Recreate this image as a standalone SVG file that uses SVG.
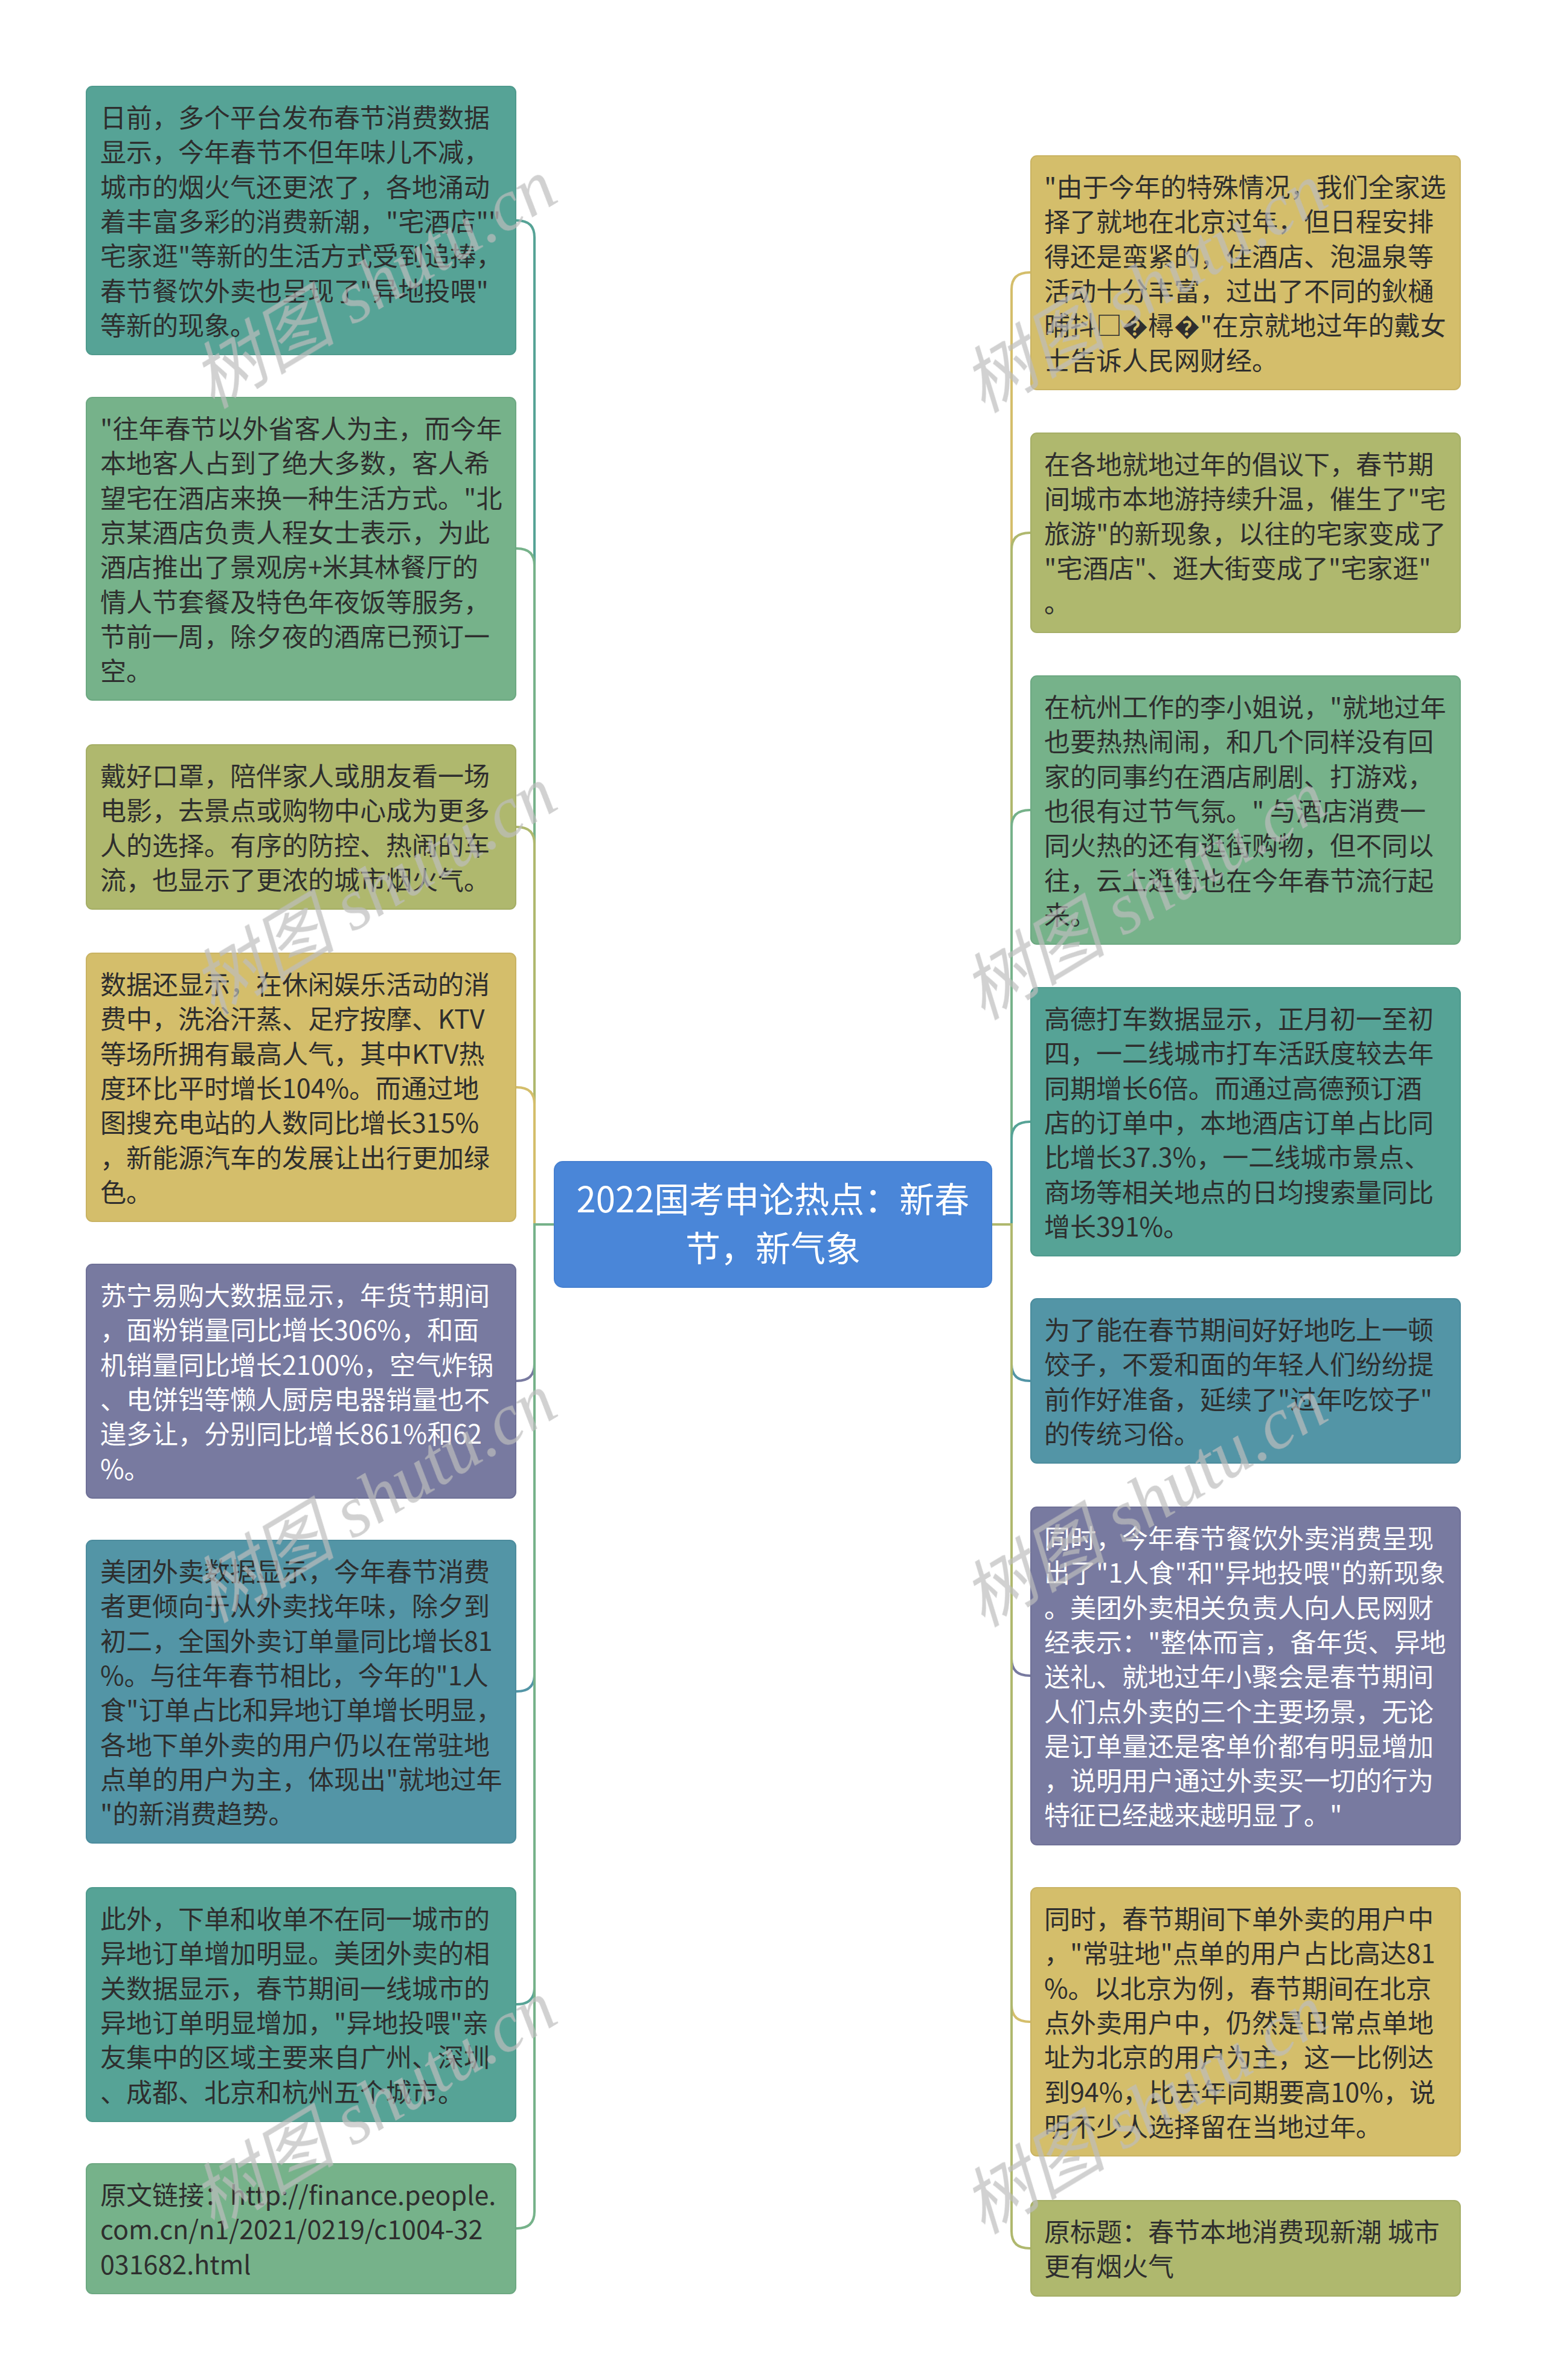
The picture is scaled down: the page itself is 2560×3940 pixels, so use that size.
<svg xmlns="http://www.w3.org/2000/svg" width="2560" height="3940" viewBox="0 0 2560 3940">
<style>
.box{stroke-width:2}
.t{font-family:"Noto Sans CJK SC","Noto Sans",sans-serif;font-size:43px;fill:#2e2e2e}
.w{fill:#ffffff}
.c{font-family:"Noto Sans CJK SC","Noto Sans",sans-serif;font-size:58px;fill:#ffffff;text-anchor:middle}
.teal{fill:#56A396;stroke:#4f9a8d}
.green{fill:#76B28A;stroke:#6da882}
.olive{fill:#AFB86E;stroke:#a5ae66}
.gold{fill:#D4BE6B;stroke:#c9b363}
.purple{fill:#787AA0;stroke:#6f7197}
.bteal{fill:#5395A6;stroke:#4c8c9d}
.sTeal{stroke:#56A396}.sGreen{stroke:#76B28A}.sOlive{stroke:#AFB86E}.sGold{stroke:#D4BE6B}.sPurple{stroke:#787AA0}.sBteal{stroke:#5395A6}
.wm{font-family:"Liberation Serif","Noto Sans CJK SC",serif;font-style:italic;font-size:120px;fill:#bdbdbd;opacity:0.7}
</style>
<rect width="2560" height="3940" fill="#ffffff"/>
<g id="connectors" fill="none" stroke-width="4">
<path class="sTeal" d="M918 2027H885V393Q885 365 856 365H854"/>
<path class="sGreen" d="M918 2027H885V936Q885 908 856 908H854"/>
<path class="sOlive" d="M918 2027H885V1397Q885 1369 856 1369H854"/>
<path class="sGold" d="M918 2027H885V1828Q885 1800 856 1800H854"/>
<path class="sPurple" d="M918 2027H885V2258Q885 2286 856 2286H854"/>
<path class="sBteal" d="M918 2027H885V2772Q885 2800 856 2800H854"/>
<path class="sTeal" d="M918 2027H885V3290Q885 3318 856 3318H854"/>
<path class="sGreen" d="M918 2027H885V3661Q885 3689 856 3689H854"/>
<path class="sGold" d="M1642 2027H1675V479Q1675 451 1705 451H1707"/>
<path class="sOlive" d="M1642 2027H1675V910Q1675 882 1705 882H1707"/>
<path class="sGreen" d="M1642 2027H1675V1369Q1675 1341 1705 1341H1707"/>
<path class="sTeal" d="M1642 2027H1675V1885Q1675 1857 1705 1857H1707"/>
<path class="sBteal" d="M1642 2027H1675V2258Q1675 2286 1705 2286H1707"/>
<path class="sPurple" d="M1642 2027H1675V2746Q1675 2774 1705 2774H1707"/>
<path class="sGold" d="M1642 2027H1675V3319Q1675 3347 1705 3347H1707"/>
<path class="sOlive" d="M1642 2027H1675V3694Q1675 3722 1705 3722H1707"/>
</g>
<g id="center">
<rect x="918" y="1923" width="724" height="208" rx="14" fill="#4A86D8" stroke="#4680d0" stroke-width="2"/>
<text class="c"><tspan x="1280" y="2007">2022国考申论热点：新春</tspan><tspan x="1280" y="2088">节，新气象</tspan></text>
</g>
<g id="L1">
<rect class="box teal" x="143" y="143" width="711" height="444" rx="10"/>
<text class="t" x="166" y="211"><tspan x="166">日前，多个平台发布春节消费数据</tspan><tspan x="166" dy="57.3">显示，今年春节不但年味儿不减，</tspan><tspan x="166" dy="57.3">城市的烟火气还更浓了，各地涌动</tspan><tspan x="166" dy="57.3">着丰富多彩的消费新潮，"宅酒店""</tspan><tspan x="166" dy="57.3">宅家逛"等新的生活方式受到追捧，</tspan><tspan x="166" dy="57.3">春节餐饮外卖也呈现了"异地投喂"</tspan><tspan x="166" dy="57.3">等新的现象。</tspan></text>
</g>
<g id="L2">
<rect class="box green" x="143" y="658" width="711" height="501" rx="10"/>
<text class="t" x="166" y="726"><tspan x="166">"往年春节以外省客人为主，而今年</tspan><tspan x="166" dy="57.3">本地客人占到了绝大多数，客人希</tspan><tspan x="166" dy="57.3">望宅在酒店来换一种生活方式。"北</tspan><tspan x="166" dy="57.3">京某酒店负责人程女士表示，为此</tspan><tspan x="166" dy="57.3">酒店推出了景观房+米其林餐厅的</tspan><tspan x="166" dy="57.3">情人节套餐及特色年夜饭等服务，</tspan><tspan x="166" dy="57.3">节前一周，除夕夜的酒席已预订一</tspan><tspan x="166" dy="57.3">空。</tspan></text>
</g>
<g id="L3">
<rect class="box olive" x="143" y="1233" width="711" height="272" rx="10"/>
<text class="t" x="166" y="1301"><tspan x="166">戴好口罩，陪伴家人或朋友看一场</tspan><tspan x="166" dy="57.3">电影，去景点或购物中心成为更多</tspan><tspan x="166" dy="57.3">人的选择。有序的防控、热闹的车</tspan><tspan x="166" dy="57.3">流，也显示了更浓的城市烟火气。</tspan></text>
</g>
<g id="L4">
<rect class="box gold" x="143" y="1578" width="711" height="444" rx="10"/>
<text class="t" x="166" y="1646"><tspan x="166">数据还显示，在休闲娱乐活动的消</tspan><tspan x="166" dy="57.3">费中，洗浴汗蒸、足疗按摩、KTV</tspan><tspan x="166" dy="57.3">等场所拥有最高人气，其中KTV热</tspan><tspan x="166" dy="57.3">度环比平时增长104%。而通过地</tspan><tspan x="166" dy="57.3">图搜充电站的人数同比增长315%</tspan><tspan x="166" dy="57.3">，新能源汽车的发展让出行更加绿</tspan><tspan x="166" dy="57.3">色。</tspan></text>
</g>
<g id="L5">
<rect class="box purple" x="143" y="2093" width="711" height="387" rx="10"/>
<text class="t w" x="166" y="2161"><tspan x="166">苏宁易购大数据显示，年货节期间</tspan><tspan x="166" dy="57.3">，面粉销量同比增长306%，和面</tspan><tspan x="166" dy="57.3">机销量同比增长2100%，空气炸锅</tspan><tspan x="166" dy="57.3">、电饼铛等懒人厨房电器销量也不</tspan><tspan x="166" dy="57.3">遑多让，分别同比增长861%和62</tspan><tspan x="166" dy="57.3">%。</tspan></text>
</g>
<g id="L6">
<rect class="box bteal" x="143" y="2550" width="711" height="501" rx="10"/>
<text class="t" x="166" y="2618"><tspan x="166">美团外卖数据显示，今年春节消费</tspan><tspan x="166" dy="57.3">者更倾向于从外卖找年味，除夕到</tspan><tspan x="166" dy="57.3">初二，全国外卖订单量同比增长81</tspan><tspan x="166" dy="57.3">%。与往年春节相比，今年的"1人</tspan><tspan x="166" dy="57.3">食"订单占比和异地订单增长明显，</tspan><tspan x="166" dy="57.3">各地下单外卖的用户仍以在常驻地</tspan><tspan x="166" dy="57.3">点单的用户为主，体现出"就地过年</tspan><tspan x="166" dy="57.3">"的新消费趋势。</tspan></text>
</g>
<g id="L7">
<rect class="box teal" x="143" y="3125" width="711" height="387" rx="10"/>
<text class="t" x="166" y="3193"><tspan x="166">此外，下单和收单不在同一城市的</tspan><tspan x="166" dy="57.3">异地订单增加明显。美团外卖的相</tspan><tspan x="166" dy="57.3">关数据显示，春节期间一线城市的</tspan><tspan x="166" dy="57.3">异地订单明显增加，"异地投喂"亲</tspan><tspan x="166" dy="57.3">友集中的区域主要来自广州、深圳</tspan><tspan x="166" dy="57.3">、成都、北京和杭州五个城市。</tspan></text>
</g>
<g id="L8">
<rect class="box green" x="143" y="3582" width="711" height="215" rx="10"/>
<text class="t" x="166" y="3650"><tspan x="166">原文链接：http://finance.people.</tspan><tspan x="166" dy="57.3">com.cn/n1/2021/0219/c1004-32</tspan><tspan x="166" dy="57.3">031682.html</tspan></text>
</g>
<g id="R1">
<rect class="box gold" x="1707" y="258" width="711" height="387" rx="10"/>
<text class="t" x="1729" y="326"><tspan x="1729">"由于今年的特殊情况，我们全家选</tspan><tspan x="1729" dy="57.3">择了就地在北京过年，但日程安排</tspan><tspan x="1729" dy="57.3">得还是蛮紧的，住酒店、泡温泉等</tspan><tspan x="1729" dy="57.3">活动十分丰富，过出了不同的鈥樋</tspan><tspan x="1729" dy="57.3">晡抖□�樳�"在京就地过年的戴女</tspan><tspan x="1729" dy="57.3">士告诉人民网财经。</tspan></text>
</g>
<g id="R2">
<rect class="box olive" x="1707" y="717" width="711" height="330" rx="10"/>
<text class="t" x="1729" y="785"><tspan x="1729">在各地就地过年的倡议下，春节期</tspan><tspan x="1729" dy="57.3">间城市本地游持续升温，催生了"宅</tspan><tspan x="1729" dy="57.3">旅游"的新现象，以往的宅家变成了</tspan><tspan x="1729" dy="57.3">"宅酒店"、逛大街变成了"宅家逛"</tspan><tspan x="1729" dy="57.3">。</tspan></text>
</g>
<g id="R3">
<rect class="box green" x="1707" y="1119" width="711" height="444" rx="10"/>
<text class="t" x="1729" y="1187"><tspan x="1729">在杭州工作的李小姐说，"就地过年</tspan><tspan x="1729" dy="57.3">也要热热闹闹，和几个同样没有回</tspan><tspan x="1729" dy="57.3">家的同事约在酒店刷剧、打游戏，</tspan><tspan x="1729" dy="57.3">也很有过节气氛。" 与酒店消费一</tspan><tspan x="1729" dy="57.3">同火热的还有逛街购物，但不同以</tspan><tspan x="1729" dy="57.3">往，云上逛街也在今年春节流行起</tspan><tspan x="1729" dy="57.3">来。</tspan></text>
</g>
<g id="R4">
<rect class="box teal" x="1707" y="1635" width="711" height="444" rx="10"/>
<text class="t" x="1729" y="1703"><tspan x="1729">高德打车数据显示，正月初一至初</tspan><tspan x="1729" dy="57.3">四，一二线城市打车活跃度较去年</tspan><tspan x="1729" dy="57.3">同期增长6倍。而通过高德预订酒</tspan><tspan x="1729" dy="57.3">店的订单中，本地酒店订单占比同</tspan><tspan x="1729" dy="57.3">比增长37.3%，一二线城市景点、</tspan><tspan x="1729" dy="57.3">商场等相关地点的日均搜索量同比</tspan><tspan x="1729" dy="57.3">增长391%。</tspan></text>
</g>
<g id="R5">
<rect class="box bteal" x="1707" y="2150" width="711" height="272" rx="10"/>
<text class="t" x="1729" y="2218"><tspan x="1729">为了能在春节期间好好地吃上一顿</tspan><tspan x="1729" dy="57.3">饺子，不爱和面的年轻人们纷纷提</tspan><tspan x="1729" dy="57.3">前作好准备，延续了"过年吃饺子"</tspan><tspan x="1729" dy="57.3">的传统习俗。</tspan></text>
</g>
<g id="R6">
<rect class="box purple" x="1707" y="2495" width="711" height="559" rx="10"/>
<text class="t w" x="1729" y="2563"><tspan x="1729">同时，今年春节餐饮外卖消费呈现</tspan><tspan x="1729" dy="57.3">出了"1人食"和"异地投喂"的新现象</tspan><tspan x="1729" dy="57.3">。美团外卖相关负责人向人民网财</tspan><tspan x="1729" dy="57.3">经表示："整体而言，备年货、异地</tspan><tspan x="1729" dy="57.3">送礼、就地过年小聚会是春节期间</tspan><tspan x="1729" dy="57.3">人们点外卖的三个主要场景，无论</tspan><tspan x="1729" dy="57.3">是订单量还是客单价都有明显增加</tspan><tspan x="1729" dy="57.3">，说明用户通过外卖买一切的行为</tspan><tspan x="1729" dy="57.3">特征已经越来越明显了。"</tspan></text>
</g>
<g id="R7">
<rect class="box gold" x="1707" y="3125" width="711" height="444" rx="10"/>
<text class="t" x="1729" y="3193"><tspan x="1729">同时，春节期间下单外卖的用户中</tspan><tspan x="1729" dy="57.3">，"常驻地"点单的用户占比高达81</tspan><tspan x="1729" dy="57.3">%。以北京为例，春节期间在北京</tspan><tspan x="1729" dy="57.3">点外卖用户中，仍然是日常点单地</tspan><tspan x="1729" dy="57.3">址为北京的用户为主，这一比例达</tspan><tspan x="1729" dy="57.3">到94%，比去年同期要高10%，说</tspan><tspan x="1729" dy="57.3">明不少人选择留在当地过年。</tspan></text>
</g>
<g id="R8">
<rect class="box olive" x="1707" y="3643" width="711" height="158" rx="10"/>
<text class="t" x="1729" y="3711"><tspan x="1729">原标题：春节本地消费现新潮 城市</tspan><tspan x="1729" dy="57.3">更有烟火气</tspan></text>
</g>
<g id="watermark" class="wm">
<text transform="translate(352 678) rotate(-31)">树图 shutu.cn</text>
<text transform="translate(1628 685) rotate(-31)">树图 shutu.cn</text>
<text transform="translate(352 1683) rotate(-31)">树图 shutu.cn</text>
<text transform="translate(1628 1690) rotate(-31)">树图 shutu.cn</text>
<text transform="translate(352 2688) rotate(-31)">树图 shutu.cn</text>
<text transform="translate(1628 2695) rotate(-31)">树图 shutu.cn</text>
<text transform="translate(352 3693) rotate(-31)">树图 shutu.cn</text>
<text transform="translate(1628 3700) rotate(-31)">树图 shutu.cn</text>
</g>
</svg>
